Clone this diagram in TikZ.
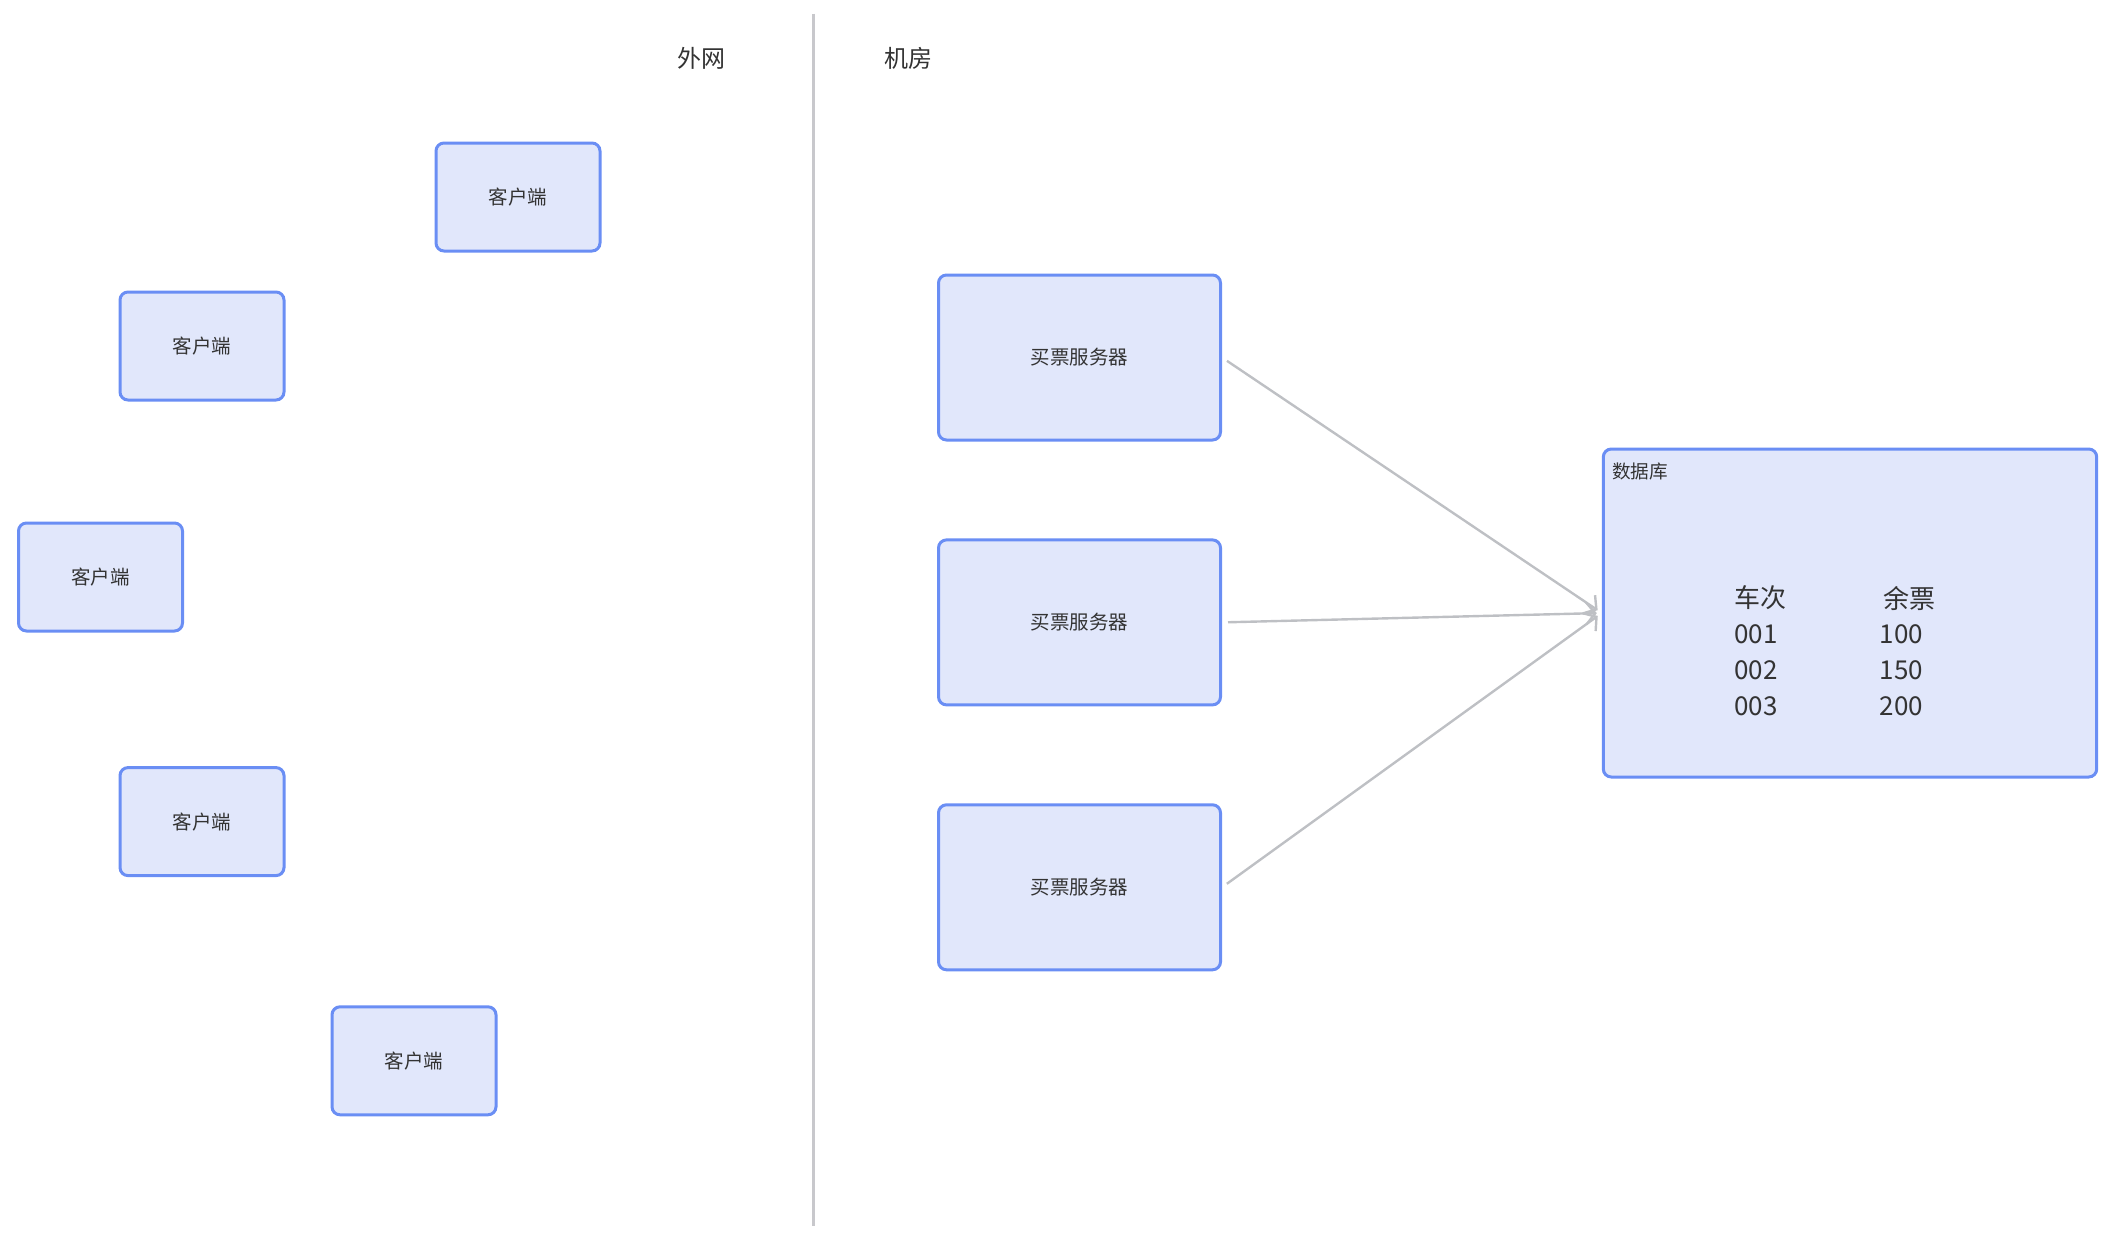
\documentclass[tikz,border=0pt]{standalone}
\usepackage{fontspec}
\setmainfont{Noto Sans CJK SC}
\usetikzlibrary{arrows.meta}
\definecolor{boxfill}{RGB}{225,231,251}
\definecolor{boxline}{RGB}{106,142,244}
\definecolor{txt}{RGB}{51,51,51}
\definecolor{divline}{RGB}{200,200,204}
\definecolor{arrowc}{RGB}{190,192,196}
\begin{document}
\begin{tikzpicture}[x=0.5pt,y=-0.5pt,
  box/.style={draw=boxline,fill=boxfill,line width=1.5pt,rounded corners=4pt,text=txt,font=\fontsize{9.75pt}{12pt}\selectfont},
  client/.style={box,minimum width=82pt,minimum height=54pt},
  server/.style={box,minimum width=141pt,minimum height=82.5pt},
  hdr/.style={text=txt,font=\fontsize{12pt}{14pt}\selectfont},
  cell/.style={text=txt,anchor=west,inner sep=0pt,font=\fontsize{13pt}{15pt}\selectfont},
  conn/.style={draw=arrowc,line width=1.2pt,-{Straight Barb[length=4.5pt,width=11pt]},shorten <=3pt,shorten >=2.5pt}]
\useasboundingbox (0,0) rectangle (2119,1237);
% divider and headers
\coordinate (dtop) at (813.3,13.5);
\coordinate (dbot) at (813.3,1225.7);
\draw[divline,line width=1.5pt] (dtop) -- (dbot);
\node[hdr] (hout) at (701.7,58.3) {外网};
\node[hdr] (hin) at (908.8,58.3) {机房};
% clients
\node[client] (c1) at (518,197) {客户端};
\node[client] (c2) at (202,346) {客户端};
\node[client] (c3) at (100.5,577) {客户端};
\node[client] (c4) at (202,821.6) {客户端};
\node[client] (c5) at (414,1060.8) {客户端};
% servers
\node[server] (s1) at (1079.5,357.5) {买票服务器};
\node[server] (s2) at (1079.5,622.4) {买票服务器};
\node[server] (s3) at (1079.5,887.3) {买票服务器};
% database
\node[box,minimum width=246.7pt,minimum height=164pt] (db) at (1850,613) {};
\node[text=txt,anchor=west,inner sep=0pt,font=\fontsize{9.3pt}{11pt}\selectfont] (dbt) at (1611.7,471.7) {数据库};
\node[cell] (h1) at (1734,598) {车次};
\node[cell] (h2) at (1882.7,598) {余票};
\node[cell] (r1a) at (1734,634.3) {001};
\node[cell] (r1b) at (1879.3,634.3) {100};
\node[cell] (r2a) at (1734,670) {002};
\node[cell] (r2b) at (1879.3,670) {150};
\node[cell] (r3a) at (1734,706) {003};
\node[cell] (r3b) at (1879.3,706) {200};
% connectors
\draw[conn] (s1.east) -- (db.west);
\draw[conn] (s2.east) -- (db.west);
\draw[conn] (s3.east) -- (db.west);
\end{tikzpicture}
\end{document}
